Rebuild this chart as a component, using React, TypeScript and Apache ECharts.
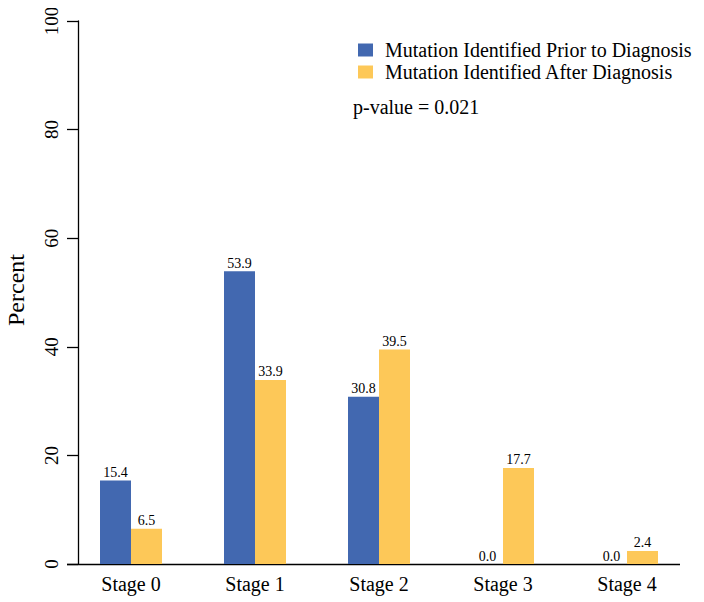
import React, { useEffect, useRef } from "react";
import * as echarts from "echarts";

const categories = ["Stage 0", "Stage 1", "Stage 2", "Stage 3", "Stage 4"];
const priorValues = [15.4, 53.9, 30.8, 0.0, 0.0];
const afterValues = [6.5, 33.9, 39.5, 17.7, 2.4];
const seriesNames = [
  "Mutation Identified Prior to Diagnosis",
  "Mutation Identified After Diagnosis",
];
const yTicks = [0, 20, 40, 60, 80, 100];
const yAxisTitle = "Percent";
const pValueText = "p-value = 0.021";

const FONT = "'Liberation Serif', serif";
const BLUE = "#4268B0";
const YELLOW = "#FDC858";

export default function App() {
  const ref = useRef<HTMLDivElement>(null);
  useEffect(() => {
    if (!ref.current) return;
    const chart = echarts.init(ref.current, undefined, { renderer: "svg" });
    const labelCfg = {
      show: true,
      position: "top" as const,
      distance: 1,
      color: "#000",
      fontFamily: FONT,
      fontSize: 14,
      formatter: (p: any) => Number(p.value).toFixed(1),
    };
    const gridBase = { top: 21, height: 543, containLabel: false, outerBoundsMode: "none" };
    chart.setOption({
      animation: false,
      backgroundColor: "#fff",
      textStyle: { fontFamily: FONT },
      grid: [
        { ...gridBase, left: 69, width: 620 },
        { ...gridBase, left: 78, width: 602 },
      ],
      legend: {
        data: seriesNames,
        orient: "vertical",
        left: 353,
        top: 35,
        itemWidth: 15,
        itemHeight: 13,
        itemGap: 2,
        icon: "rect",
        textStyle: { fontFamily: FONT, fontSize: 20, color: "#000", padding: [0, 0, 0, 7] },
      },
      graphic: [
        {
          type: "line",
          shape: { x1: 67, y1: 564.5, x2: 680, y2: 564.5 },
          style: { stroke: "#000", lineWidth: 1.3 },
        },
        {
          type: "text",
          left: 353,
          top: 97,
          style: { text: pValueText, font: `20px ${FONT}`, fill: "#000" },
        },
        {
          type: "text",
          x: 16,
          y: 290,
          rotation: Math.PI / 2,
          style: {
            text: yAxisTitle,
            font: `24px ${FONT}`,
            fill: "#000",
            align: "center",
            verticalAlign: "middle",
          },
        },
      ],
      xAxis: [
        {
          type: "category",
          gridIndex: 0,
          data: categories,
          axisLine: { show: false },
          axisTick: { show: false },
          axisLabel: { fontFamily: FONT, fontSize: 20, color: "#000", margin: 10 },
        },
        {
          type: "category",
          gridIndex: 1,
          data: categories,
          show: false,
        },
      ],
      yAxis: [
        {
          type: "value",
          gridIndex: 0,
          min: 0,
          max: 100,
          interval: 20,
          show: false,
          splitLine: { show: false },
        },
        {
          type: "value",
          gridIndex: 1,
          min: 0,
          max: 100,
          interval: 20,
          splitLine: { show: false },
          axisLine: { show: true, lineStyle: { color: "#000", width: 1.3 } },
          axisTick: { show: true, length: 11, lineStyle: { color: "#000", width: 1.3 } },
          axisLabel: {
            fontFamily: FONT,
            fontSize: 19,
            color: "#000",
            rotate: 90,
            margin: 17,
            formatter: (v: number) => (yTicks.includes(v) ? String(v) : ""),
          },
        },
      ],
      series: [
        {
          name: seriesNames[0],
          type: "bar",
          xAxisIndex: 0,
          yAxisIndex: 0,
          data: priorValues,
          barWidth: "25%",
          barGap: "0%",
          itemStyle: { color: BLUE },
          label: labelCfg,
        },
        {
          name: seriesNames[1],
          type: "bar",
          xAxisIndex: 0,
          yAxisIndex: 0,
          data: afterValues,
          barWidth: "25%",
          barGap: "0%",
          itemStyle: { color: YELLOW },
          label: labelCfg,
        },
      ],
    });
    return () => chart.dispose();
  }, []);
  return <div ref={ref} style={{ width: 704, height: 602, marginLeft: -8, marginTop: -8 }} />;
}
